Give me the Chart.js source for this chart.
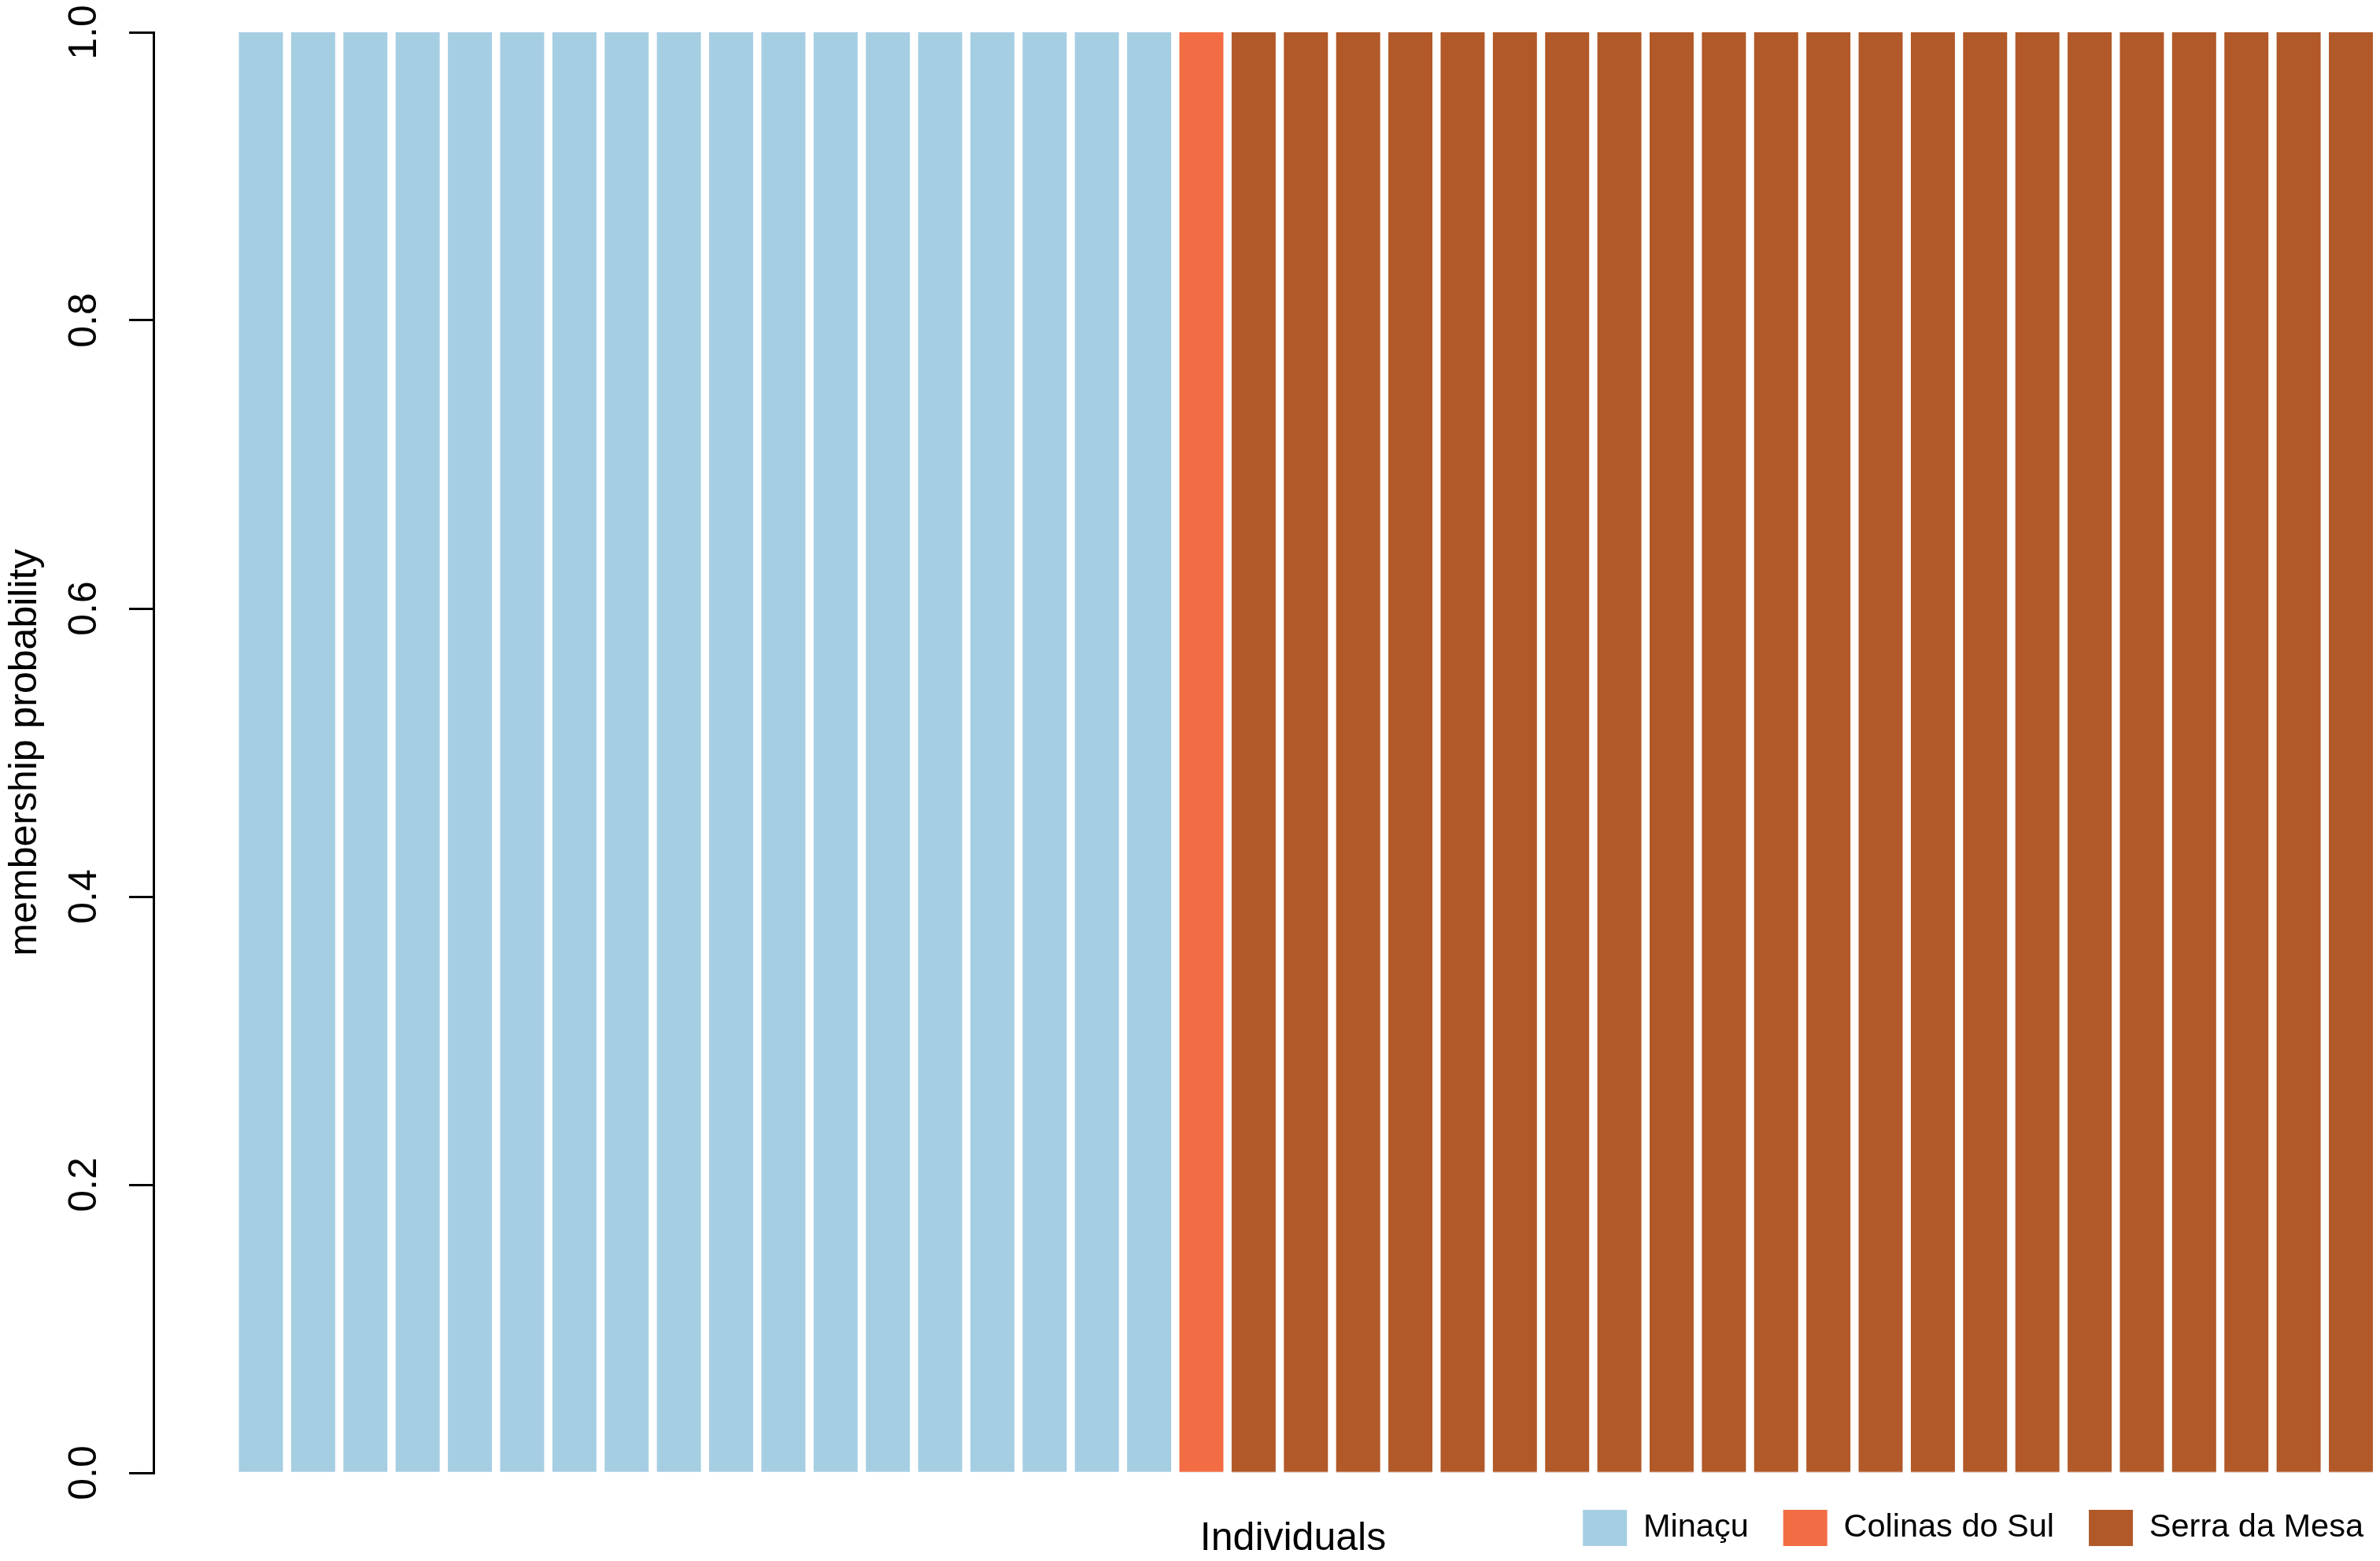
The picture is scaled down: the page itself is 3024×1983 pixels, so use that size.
<!DOCTYPE html>
<html>
<head>
<meta charset="utf-8">
<title>membership probability</title>
<script src="https://cdn.jsdelivr.net/npm/chart.js@4.4.1/dist/chart.umd.min.js"></script>
<style>
  html, body { margin: 0; padding: 0; background: #fff; overflow: hidden; }
  #wrap { width: 3024px; height: 1983px; overflow: hidden; position: relative; }
  /* the plot region runs a little past the right edge, like the original figure */
  #plot { width: 3091px; height: 1983px; position: absolute; left: 0; top: 0; }
</style>
</head>
<body>
<div id="wrap"><div id="plot"><canvas id="myChart"></canvas></div></div>
<script>
// individuals, in plot order
const individuals = [1, 2, 3, 4, 5, 6, 7, 8, 9, 10, 11, 12, 13, 14, 15, 16, 17, 18, 19, 20,
  21, 22, 23, 24, 25, 26, 27, 28, 29, 30, 31, 32, 33, 34, 35, 36, 37, 38, 39, 40, 41];

// membership probability per cluster
const minacu = [1, 1, 1, 1, 1, 1, 1, 1, 1, 1, 1, 1, 1, 1, 1, 1, 1, 1,
  0, 0, 0, 0, 0, 0, 0, 0, 0, 0, 0, 0, 0, 0, 0, 0, 0, 0, 0, 0, 0, 0, 0];
const colinasDoSul = [0, 0, 0, 0, 0, 0, 0, 0, 0, 0, 0, 0, 0, 0, 0, 0, 0, 0,
  1, 0, 0, 0, 0, 0, 0, 0, 0, 0, 0, 0, 0, 0, 0, 0, 0, 0, 0, 0, 0, 0, 0];
const serraDaMesa = [0, 0, 0, 0, 0, 0, 0, 0, 0, 0, 0, 0, 0, 0, 0, 0, 0, 0,
  0, 1, 1, 1, 1, 1, 1, 1, 1, 1, 1, 1, 1, 1, 1, 1, 1, 1, 1, 1, 1, 1, 1];

const clusterNames = ['Minaçu', 'Colinas do Sul', 'Serra da Mesa'];
const yTicks = [0, 0.2, 0.4, 0.6, 0.8, 1.0];

const toPoints = (vals) => individuals.map((id, i) => ({ x: id, y: vals[i] }));

Chart.defaults.font.family = "'Liberation Sans', Arial, Helvetica, sans-serif";
Chart.defaults.color = '#000';

// pull the legend back inside the visible part of the page
const legendShift = {
    id: 'legendShift',
    afterLayout(chart) {
        if (chart.legend) {
            chart.legend.left -= 44;
            chart.legend.right -= 44;
        }
    }
};

const ctx = document.getElementById('myChart').getContext('2d');
const myChart = new Chart(ctx, {
    type: 'bar',
    data: {
        datasets: [
            { label: clusterNames[0], data: toPoints(minacu), backgroundColor: '#A6CEE3' },
            { label: clusterNames[1], data: toPoints(colinasDoSul), backgroundColor: '#F26D44' },
            { label: clusterNames[2], data: toPoints(serraDaMesa), backgroundColor: '#B15928' }
        ]
    },
    plugins: [legendShift],
    options: {
        responsive: true,
        maintainAspectRatio: false,
        devicePixelRatio: 1,
        animation: false,
        layout: { padding: { left: 0, top: 41, right: 0, bottom: 9 } },
        datasets: {
            bar: { barThickness: 55.3, borderWidth: 0 }
        },
        scales: {
            x: {
                type: 'linear',
                stacked: true,
                offset: false,
                bounds: 'data',
                min: -1.0561,
                max: 42.5666,
                grid: { display: false, drawTicks: false, offset: false },
                border: { display: false },
                ticks: { display: false, stepSize: 100 },
                title: {
                    display: true,
                    text: 'Individuals',
                    font: { size: 50 },
                    padding: { top: 54, bottom: -111 }
                }
            },
            y: {
                stacked: true,
                min: 0,
                max: 1,
                afterBuildTicks: (scale) => {
                    scale.ticks = yTicks.map(v => ({ value: v }));
                },
                afterFit: (scale) => {
                    scale.width = 195;
                    scale.paddingTop = 0;
                    scale.paddingBottom = 0;
                },
                ticks: {
                    minRotation: 90,
                    maxRotation: 90,
                    crossAlign: 'center',
                    padding: 21,
                    font: { size: 50 },
                    callback: (v) => Number(v).toFixed(1)
                },
                grid: {
                    drawOnChartArea: false,
                    drawTicks: true,
                    tickLength: 31,
                    lineWidth: 3,
                    color: '#000'
                },
                border: { display: true, color: '#000', width: 3 },
                title: {
                    display: true,
                    text: 'membership probability',
                    font: { size: 50 },
                    padding: { top: 2, bottom: 0 }
                }
            }
        },
        plugins: {
            tooltip: { enabled: false },
            legend: {
                display: true,
                position: 'bottom',
                align: 'end',
                labels: {
                    boxWidth: 56,
                    boxHeight: 46,
                    padding: 44,
                    font: { size: 41.5 },
                    color: '#000'
                }
            }
        }
    }
});
</script>
</body>
</html>
